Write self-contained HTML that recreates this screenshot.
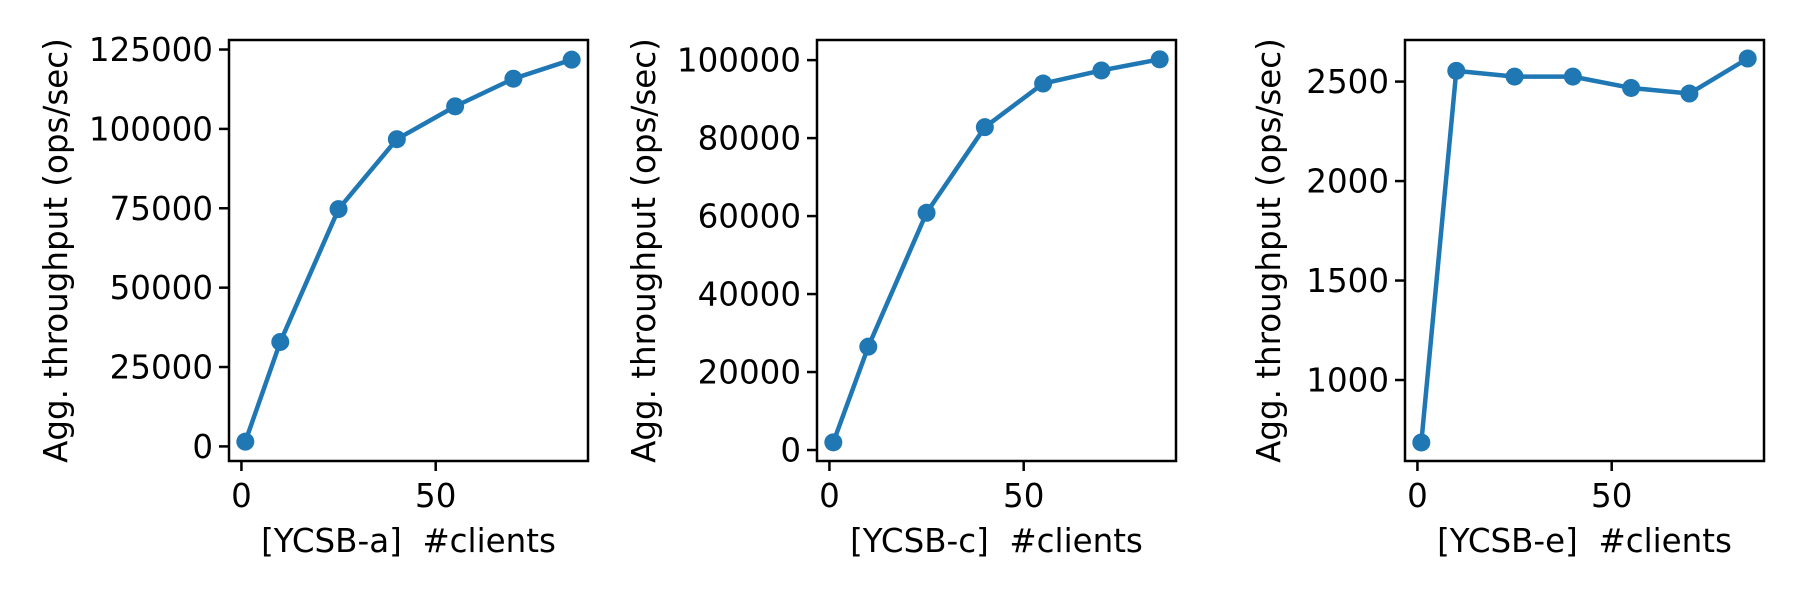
<!DOCTYPE html>
<html><head><meta charset="utf-8"><style>
html,body{margin:0;padding:0;background:#fff;}
svg{display:block;font-family:"DejaVu Sans","Liberation Sans",sans-serif;}
text{white-space:pre;}
</style></head><body>
<svg id="chart" width="1800" height="600" viewBox="0 0 1800 600" xmlns="http://www.w3.org/2000/svg"></svg>
<script>
const clients = [1, 10, 25, 40, 55, 70, 85];
const ycsbA = [1500, 32900, 74750, 96750, 107100, 115800, 121800];
const ycsbC = [1970, 26500, 60850, 82800, 94000, 97350, 100200];
const ycsbE = [686, 2554, 2525, 2525, 2468, 2440, 2616];
const xTicks = [0, 50];
const yTicksA = [0, 25000, 50000, 75000, 100000, 125000];
const yTicksC = [0, 20000, 40000, 60000, 80000, 100000];
const yTicksE = [1000, 1500, 2000, 2500];
const panelNames = ["ycsb-a", "ycsb-c", "ycsb-e"];
const xLabels = ["[YCSB-a]  #clients", "[YCSB-c]  #clients", "[YCSB-e]  #clients"];

const NS = "http://www.w3.org/2000/svg";
const svg = document.getElementById("chart");
const FS = 32.5;
function mk(tag, attrs, parent) {
  const e = document.createElementNS(NS, tag);
  for (const k in attrs) e.setAttribute(k, attrs[k]);
  (parent || svg).appendChild(e);
  return e;
}
const panels = [
  {left:229, right:588, top:40, bottom:461, data:ycsbA, ticks:yTicksA, yMin:-4600, yMax:128000, titleX:67},
  {left:817, right:1176, top:40, bottom:461, data:ycsbC, ticks:yTicksC, yMin:-2820, yMax:105160, titleX:655},
  {left:1405, right:1764, top:40, bottom:461, data:ycsbE, ticks:yTicksE, yMin:593, yMax:2709, titleX:1280}
];
const xMin = -3.2, xMax = 89.2;
panels.forEach((p, i) => {
  const g = mk("g", {});
  
  
  const sx = v => p.left + (v - xMin) / (xMax - xMin) * (p.right - p.left);
  const sy = v => p.bottom - (v - p.yMin) / (p.yMax - p.yMin) * (p.bottom - p.top);
  const frame = mk("rect", {x:p.left, y:p.top, width:p.right-p.left, height:p.bottom-p.top, fill:"none", stroke:"#000", "stroke-width":2.5}, g);
  
  
  xTicks.forEach(t => {
    const x = sx(t);
    const tl = mk("line", {x1:x, x2:x, y1:p.bottom, y2:p.bottom+10, stroke:"#000", "stroke-width":2.5}, g);
    
    
    const tx = mk("text", {x:x, y:507, "font-size":FS, "text-anchor":"middle", fill:"#000"}, g);
    tx.textContent = String(t);
    
    
  });
  p.ticks.forEach(t => {
    const y = sy(t);
    const tl = mk("line", {x1:p.left-10, x2:p.left, y1:y, y2:y, stroke:"#000", "stroke-width":2.5}, g);
    
    
    const tx = mk("text", {x:p.left-16, y:y+11.5, "font-size":FS, "text-anchor":"end", fill:"#000"}, g);
    tx.textContent = String(t);
    
    
  });
  const xl = mk("text", {x:(p.left+p.right)/2, y:552, "font-size":FS, "text-anchor":"middle", fill:"#000"}, g);
  xl.textContent = xLabels[i];
  
  
  const cy = (p.top + p.bottom) / 2;
  const yl = mk("text", {x:p.titleX, y:cy, "font-size":FS, "text-anchor":"middle", fill:"#000", transform:`rotate(-90 ${p.titleX} ${cy})`}, g);
  yl.textContent = "Agg. throughput (ops/sec)";
  
  
  const pts = clients.map((c, j) => sx(c) + "," + sy(p.data[j])).join(" ");
  const line = mk("polyline", {points:pts, fill:"none", stroke:"#1f77b4", "stroke-width":4.5, "stroke-linejoin":"round"}, g);
  
  
  clients.forEach((c, j) => {
    const m = mk("circle", {cx:sx(c), cy:sy(p.data[j]), r:9, fill:"#1f77b4"}, g);
    
    
  });
});
</script>
</body></html>
